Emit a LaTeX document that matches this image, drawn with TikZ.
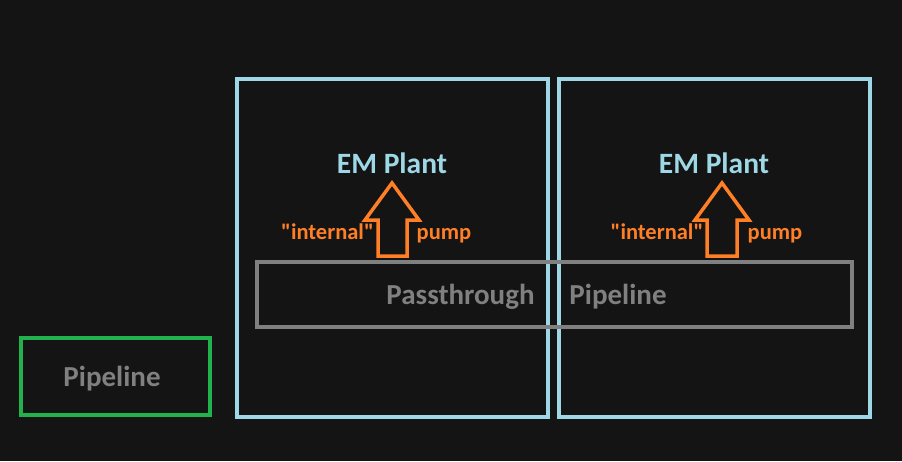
\documentclass[tikz,border=0pt]{standalone}
\usepackage{fontspec}
\setmainfont{Carlito}
\definecolor{bg}{HTML}{141414}
\definecolor{plantblue}{HTML}{9ED8E6}
\definecolor{pipegray}{HTML}{808080}
\definecolor{pipegreen}{HTML}{22B14C}
\definecolor{pumporange}{HTML}{FF7F27}
\tikzset{
  plantbox/.style={draw=plantblue,line width=3.5pt},
  pipebox/.style={draw=pipegray,line width=3.5pt},
  greenbox/.style={draw=pipegreen,line width=3.5pt},
  planttext/.style={text=plantblue,font=\bfseries\fontsize{29.5}{32}\selectfont,inner sep=0pt,anchor=base},
  pipetext/.style={text=pipegray,font=\bfseries\fontsize{29}{32}\selectfont,inner sep=0pt,anchor=base},
  pumptext/.style={text=pumporange,font=\bfseries\fontsize{22.5}{24}\selectfont,inner sep=0pt,anchor=base},
  blockarrow/.style={draw=pumporange,line width=3.5pt,line join=miter}
}
\begin{document}
\begin{tikzpicture}[x=1pt,y=-1pt]
\fill[bg] (0,0) rectangle (902,461);
\useasboundingbox (0,0) rectangle (902,461);
% plant boxes
\draw[plantbox] (237,79) rectangle (548,417);
\draw[plantbox] (559,79) rectangle (870,417);
% green pipeline
\draw[greenbox] (21,338) rectangle (210,415);
\node[pipetext] (gpipe) at (112,386) {Pipeline};
% plant labels
\node[planttext] (em1) at (392,173.5) {EM Plant};
\node[planttext] (em2) at (714,173.5) {EM Plant};
% block arrows
\draw[blockarrow] (392,183) -- (419,220) -- (407,220) -- (407,256) -- (378,256) -- (378,220) -- (365,220) -- cycle;
\draw[blockarrow] (722,183) -- (749,220) -- (737,220) -- (737,256) -- (707,256) -- (707,220) -- (695,220) -- cycle;
\node[pumptext] (int1) at (327.5,239.5) {\textquotedbl internal\textquotedbl};
\node[pumptext] (pump1) at (444,239.5) {pump};
\node[pumptext] (int2) at (657,239.5) {\textquotedbl internal\textquotedbl};
\node[pumptext] (pump2) at (775,239.5) {pump};
% passthrough pipeline
\draw[pipebox] (257,262) rectangle (852,327);
\node[pipetext] (pass) at (460.5,304.5) {Passthrough};
\node[pipetext] (ppipe) at (618,304.5) {Pipeline};
\end{tikzpicture}
\end{document}
